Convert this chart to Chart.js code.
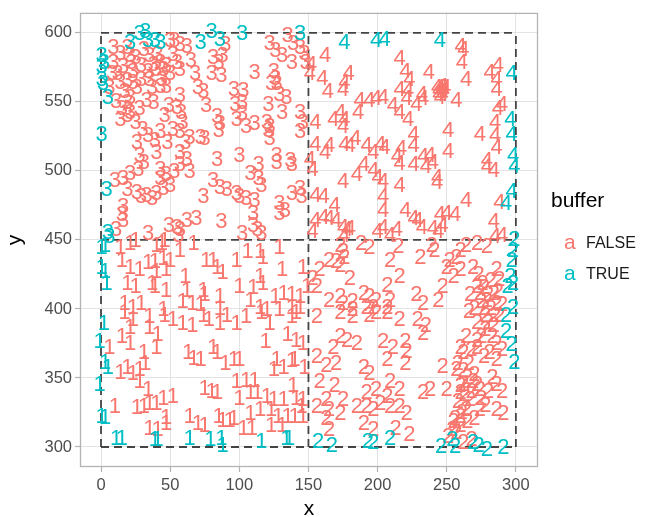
<!DOCTYPE html>
<html>
<head>
<meta charset="utf-8">
<script src="https://cdn.jsdelivr.net/npm/chart.js@4"></script>
<style>
  html, body { margin: 0; padding: 0; background: #fff; }
  #wrap { position: relative; width: 656px; height: 517px; font-family: "Liberation Sans", Arial, sans-serif; }
  #chart { position: absolute; left: 0; top: 0; }
  .lg { position: absolute; line-height: 1; white-space: nowrap; }
</style>
</head>
<body>
<div id="wrap">
  <canvas id="chart" width="656" height="517"></canvas>
  <div class="lg" style="left:551px; top:189px; font-size:21px; color:#000;">buffer</div>
  <div class="lg" style="left:564px; top:231px; font-size:21px; color:#F8766D;">a</div>
  <div class="lg" style="left:586px; top:234.5px; font-size:16px; color:#1a1a1a;">FALSE</div>
  <div class="lg" style="left:564px; top:262px; font-size:21px; color:#00BFC4;">a</div>
  <div class="lg" style="left:586px; top:265.5px; font-size:16px; color:#1a1a1a;">TRUE</div>
</div>
<script>
(function () {
  'use strict';

  // axis ticks and the dashed block borders
  var xTicks = [0, 50, 100, 150, 200, 250, 300];
  var yTicks = [300, 350, 400, 450, 500, 550, 600];
  var xBreaks = [0, 150, 300];
  var yBreaks = [300, 450, 600];

  // block 1 (x 0-150, y 300-450)
  var block1False = [
    [14,444],[21,447],[25,449],[40,446],[44,447],[46,449],[50,435],[45,436],[57,442],[67,447],[76,435],[81,435],[84,430],[88,426],
    [15,435],[21,430],[28,428],[34,433],[39,434],[40,427],[47,428],[61,423],[19,418],[25,416],[37,418],[39,416],[47,413],[62,413],
    [74,413],[75,410],[86,409],[17,404],[23,401],[29,404],[45,399],[59,405],[66,404],[72,403],[86,400],
    [17,397],[23,392],[35,394],[46,395],[52,392],[59,389],[66,388],[74,395],[78,392],[86,389],[91,395],[21,386],[15,380],[35,386],
    [41,381],[6,372],[21,375],[31,368],[40,372],[63,368],[67,364],[72,363],[81,372],[84,368],[90,360],[14,354],[19,357],[23,353],
    [28,356],[32,360],[28,347],[34,341],[75,342],[80,340],[84,339],[10,329],[26,328],[31,329],[35,331],[40,331],[45,335],[52,336],
    [47,321],[64,322],[70,317],[75,315],[85,322],[88,319],[93,319],[35,313],[41,312],[47,317],
    [98,389],[105,394],[116,397],[138,394],[141,397],[122,389],[119,376],[135,381],[141,377],[146,375],[96,363],[100,363],[127,363],
    [125,356],[132,357],[138,362],[140,363],[147,357],[98,347],[105,348],[111,348],[139,344],[100,335],[108,339],[113,339],[120,336],
    [125,334],[132,334],[141,335],[146,334],[145,329],[108,324],[115,327],[123,327],[128,322],[135,322],[140,322],[146,322],[96,320],
    [103,313],[109,313],[123,315],[131,315],
    [98,435],[106,441],[115,441],[117,437],[129,444],[131,428],[146,430],[100,416],[110,415],[115,423],[117,418],[126,409],[132,411],
    [138,410],[144,409],[149,416],[108,406],[115,401],[120,399],[129,399],[138,401],[144,401]
  ];
  var block1True = [
    [2,389],[-1,376],[3,361],[5,357],[-1,345],[0.5,322],[3,321],[11,306],[15,306],[39,305],[41,305],[64,306],[79,305],[87,306],
    [88,301],[116,304],[134,306],[136,306],[0.5,444],[3,446],[0.5,430],[3,427],[4,418]
  ];

  // block 2 (x 150-300, y 300-450)
  var block2False = [
    [173,446],[175,441],[188,447],[194,444],[165,435],[170,434],[176,437],[173,431],[158,428],[153,422],[180,422],[156,416],[165,406],
    [173,409],[175,404],[182,405],[190,411],[194,409],[199,406],[192,401],[197,401],[182,399],
    [156,394],[173,397],[182,394],[194,395],[199,397],[173,380],[178,377],[185,375],[168,372],[156,365],[163,359],[170,360],[190,357],
    [194,353],[158,347],[169,344],[175,334],[163,334],[156,329],[165,327],[173,324],[185,329],[192,329],[197,327],[202,331],[192,339],
    [199,341],[163,320],[165,312],[190,317],[197,312],
    [207,397],[216,392],[229,392],[235,388],[233,382],[204,376],[211,372],[220,376],[221,369],[207,363],[220,360],[247,358],[260,372],
    [264,380],[262,368],[257,356],[272,377],[281,368],[286,363],[277,365],[209,347],[216,341],[233,339],[238,341],[250,341],[260,344],
    [269,347],[274,341],[267,334],[274,327],[286,327],[291,324],[207,336],[209,329],[216,329],[221,324],[213,313],[223,309],[256,320],
    [254,312],[251,307],[260,339],[264,327],
    [262,345],[265,350],[268,340],[270,352],[258,333],[261,325],[255,318],[263,338],[272,345],[275,335],[260,315],[257,310],[278,395],
    [282,400],[275,405],[280,410],[285,395],[270,400],[278,385],[283,380],[286,375],[290,370],[272,390],[266,398],[276,418],[282,420],
    [287,412],
    [258,360],[262,355],[266,360],[268,370],[272,372],[275,380],[280,390],[284,388],[288,395],[277,400],[267,410],[273,425],[260,322],
    [265,318],[270,320],[278,330],[280,340],[283,350],[286,345],[290,340],[268,305],[262,303],
    [215,445],[209,435],[231,437],[239,446],[241,442],[252,435],[257,437],[260,442],[264,446],[272,447],[279,445],[269,430],[260,428],
    [250,430],[255,423],[247,416],[244,406],[233,404],[228,410],[216,423],[207,417],[209,406],[207,401],[272,416],[277,415],[274,411],
    [279,406],[286,428],[288,421],[284,411],[286,404],[290,403]
  ];
  var block2True = [
    [299,450],[298,442],[297,435],[296,423],[298,418],[294,416],[298,401],[293,395],[293,383],[297,374],[299,361],[209,306],[246,300],
    [254,305],[256,300],[269,303],[273,301],[279,298],[291,299],[157,304],[167,301],[193,304],[197,303]
  ];

  // block 3 (x 0-150, y 450-600)
  var block3False = [
    [9,589],[14,585],[19,589],[21,583],[9,578],[16,575],[22,578],[23,572],[29,576],[34,572],[38,577],[40,573],[43,578],[45,573],
    [47,576],[35,583],[41,584],[53,594],[52,584],[55,578],[57,573],[14,564],[19,565],[23,564],[29,566],[35,566],[37,560],[43,561],
    [47,561],[17,557],[21,553],[19,549],[33,551],[38,549],[49,547],[55,546],[57,554],[58,542],[59,535],[57,528],[61,520],[57,513],
    [62,508],[14,537],[19,540],[21,542],[34,525],[39,522],[43,528],[64,524],[72,524],[75,523],[74,557],[76,547],[81,582],[85,578],
    [88,583],[80,570],[87,569],[84,539],[86,534],[85,529],[84,508],[28,511],[31,506],[57,591],[50,594],[90,591],[126,587],[135,598],
    [12,570],[26,560],[31,588],[25,582],[11,550],[15,545],[28,545],[44,566],[50,570],[6,560],[8,570],[30,530],[25,535],[46,540],
    [52,530],[65,580],[68,570],[62,590],[70,560],[48,520],[26,520],[40,513],
    [122,592],[131,583],[138,578],[139,592],[144,589],[147,585],[148,578],[111,571],[125,572],[126,567],[123,563],[127,563],[134,553],
    [129,555],[121,548],[96,559],[103,558],[97,548],[102,549],[102,541],[98,537],[105,532],[111,534],[120,535],[122,532],[121,529],
    [122,523],[131,542],[144,542],[146,535],[144,528],[100,511],[114,504],[127,511],[137,507],
    [10,493],[16,494],[21,498],[27,501],[43,501],[43,494],[47,497],[53,499],[57,504],[64,499],[19,486],[26,484],[29,481],[33,482],
    [37,480],[40,483],[45,487],[50,489],[81,493],[86,488],[91,486],[74,481],[16,474],[15,468],[16,464],[11,457],[34,454],[49,460],
    [55,459],[57,457],[62,464],[69,465],[87,463],[56,453],
    [108,498],[114,494],[116,489],[100,481],[105,480],[111,478],[98,483],[129,476],[129,469],[133,471],[138,483],[144,487],[145,481],
    [110,469],[110,460],[113,457],[102,454],[116,454],[127,506],[138,504]
  ];
  var block3True = [
    [21,593],[28,599],[32,601],[34,594],[39,594],[43,593],[72,593],[80,601],[86,595],[102,599],[144,599],[0.5,583],[2,578],[0.5,575],
    [0.5,566],[1.5,563],[5,553],[0.5,526],[4,486],[5,455],[6,452]
  ];

  // block 4 (x 150-300, y 450-600)
  var block4False = [
    [162,583],[152,577],[151,570],[160,567],[164,557],[175,559],[179,570],[176,564],[187,551],[194,551],[199,552],[173,542],[168,537],
    [176,537],[175,532],[186,542],[155,535],[155,519],[165,518],[176,519],[180,518],[184,523],[192,518],[197,513],[202,519],[162,513],
    [151,508],
    [260,590],[262,588],[261,578],[264,566],[216,581],[220,572],[223,566],[237,571],[245,560],[247,561],[244,555],[257,551],[216,559],
    [222,558],[221,552],[232,555],[233,552],[228,548],[204,553],[211,547],[216,542],[222,537],[281,571],[287,576],[286,566],[286,559],
    [290,548],[287,545],[285,535],[274,526],[285,525],[286,517],[251,529],[251,514],[226,526],[226,518],[217,516],[214,510],[205,517],
    [233,510],[238,511],[279,507],[246,557],[248,558],[244,558],[243,560],[247,555],[249,560],[245,553],
    [216,505],[226,504],[235,503],[240,506],[279,503],[284,500],[204,492],[216,489],[243,491],[243,495],[264,478],[288,477],[204,481],
    [204,471],[220,471],[226,465],[229,464],[232,459],[240,458],[245,468],[250,469],[256,468],[247,460],[244,456],[209,453],[214,457],
    [284,463],[285,452],[290,453],[204,459],
    [153,501],[175,492],[185,497],[190,504],[197,500],[200,495],[155,482],[161,481],[169,475],[155,464],[161,466],[165,465],[170,464],
    [153,456],[175,459],[178,457],[180,458],[176,453],[200,456]
  ];
  var block4True = [
    [176,593],[199,594],[205,595],[245,594],[297,570],[296,537],[297,526],[298,511],[299,503],[297,485],[293,476]
  ];

  var RED = '#F8766D';
  var TEAL = '#00BFC4';
  var FONT = '"Liberation Sans", Arial, sans-serif';

  function pts(list) {
    return list.map(function (p) { return { x: p[0], y: p[1] }; });
  }

  function textSet(glyph, list, color) {
    return { type: 'scatter', glyph: glyph, textColor: color, data: pts(list), pointRadius: 0, pointHoverRadius: 0, borderWidth: 0 };
  }

  function dashSet(data) {
    return { type: 'line', data: data, borderColor: '#444', borderWidth: 1.8, borderDash: [8, 5], pointRadius: 0, fill: false, tension: 0 };
  }

  var datasets = [];
  // dashed block borders
  xBreaks.forEach(function (b) {
    datasets.push(dashSet([{ x: b, y: yBreaks[0] }, { x: b, y: yBreaks[yBreaks.length - 1] }]));
  });
  yBreaks.forEach(function (b) {
    datasets.push(dashSet([{ x: xBreaks[0], y: b }, { x: xBreaks[xBreaks.length - 1], y: b }]));
  });

  datasets.push(textSet('1', block1False, RED));
  datasets.push(textSet('2', block2False, RED));
  datasets.push(textSet('3', block3False, RED));
  datasets.push(textSet('4', block4False, RED));
  datasets.push(textSet('1', block1True, TEAL));
  datasets.push(textSet('2', block2True, TEAL));
  datasets.push(textSet('3', block3True, TEAL));
  datasets.push(textSet('4', block4True, TEAL));

  // draws the digit labels at each point, then the panel border
  var textPoints = {
    id: 'textPoints',
    afterDatasetsDraw: function (chart) {
      var ctx = chart.ctx;
      var a = chart.chartArea;
      ctx.save();
      ctx.beginPath();
      ctx.rect(a.left, a.top, a.right - a.left, a.bottom - a.top);
      ctx.clip();
      ctx.font = '22px ' + FONT;
      ctx.textAlign = 'center';
      ctx.textBaseline = 'middle';
      chart.data.datasets.forEach(function (ds, i) {
        if (!ds.glyph) return;
        ctx.fillStyle = ds.textColor;
        chart.getDatasetMeta(i).data.forEach(function (el) {
          ctx.fillText(ds.glyph, el.x, el.y);
        });
      });
      ctx.restore();

      ctx.save();
      ctx.strokeStyle = '#b3b3b3';
      ctx.lineWidth = 1.3;
      ctx.strokeRect(a.left + 0.5, a.top + 0.5, a.right - a.left - 1, a.bottom - a.top - 1);
      ctx.restore();
    }
  };

  var tickFont = { family: FONT, size: 16.5 };
  var titleFont = { family: FONT, size: 21, lineHeight: 1 };

  new Chart(document.getElementById('chart'), {
    type: 'scatter',
    data: { datasets: datasets },
    plugins: [textPoints],
    options: {
      responsive: false,
      animation: false,
      devicePixelRatio: 1,
      layout: { padding: { left: 0, top: 12, right: 118, bottom: 0 } },
      plugins: { legend: { display: false }, tooltip: { enabled: false } },
      scales: {
        x: {
          type: 'linear',
          min: -15.2,
          max: 316,
          afterBuildTicks: function (s) { s.ticks = xTicks.map(function (v) { return { value: v }; }); },
          afterFit: function (s) { s.height = 50; },
          grid: { color: '#e3e3e3', lineWidth: 1, tickColor: '#b3b3b3', tickLength: 5, tickWidth: 1.2 },
          border: { display: false },
          ticks: { font: tickFont, color: '#4d4d4d', padding: 4, maxRotation: 0 },
          title: { display: true, text: 'x', font: titleFont, color: '#000', padding: { top: 0, bottom: -3 } }
        },
        y: {
          type: 'linear',
          min: 285.5,
          max: 614.5,
          afterBuildTicks: function (s) { s.ticks = yTicks.map(function (v) { return { value: v }; }); },
          afterFit: function (s) { s.width = 80; },
          grid: { color: '#e3e3e3', lineWidth: 1, tickColor: '#b3b3b3', tickLength: 5, tickWidth: 1.2 },
          border: { display: false },
          ticks: { font: tickFont, color: '#4d4d4d', padding: 3 },
          title: { display: true, text: 'y', font: titleFont, color: '#000', padding: { top: 5, bottom: 0 } }
        }
      }
    }
  });
})();
</script>
</body>
</html>
